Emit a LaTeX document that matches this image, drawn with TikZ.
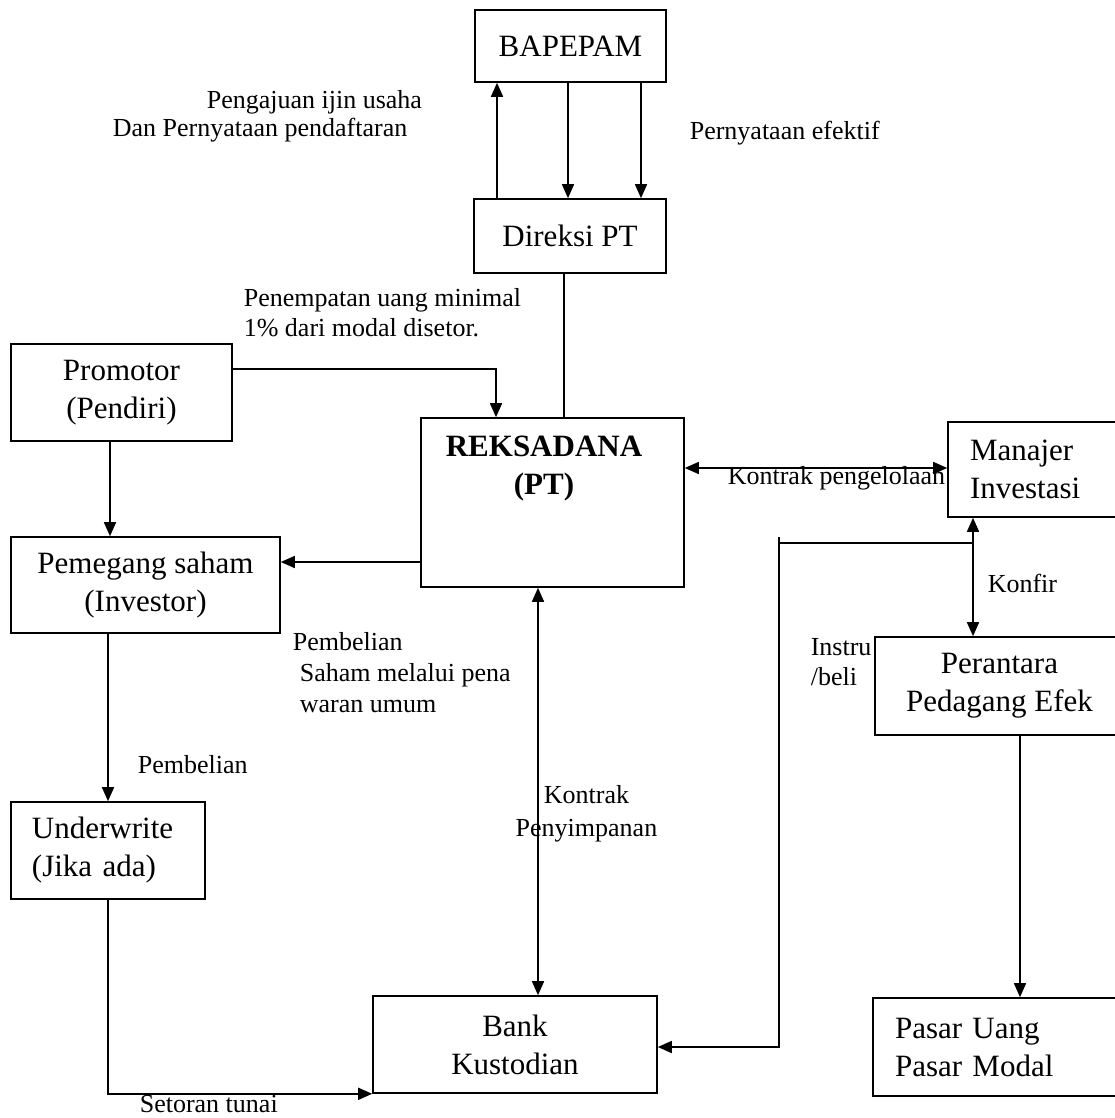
\documentclass[tikz,border=0pt]{standalone}
\usepackage{fontspec}
\setmainfont{Liberation Serif}
\usetikzlibrary{arrows.meta, calc}
\newcommand{\boxfont}{\fontsize{15.5}{19}\selectfont}
\newcommand{\lblfont}{\fontsize{13}{15}\selectfont}
\tikzset{
    block/.style = {draw=black, inner sep=0pt, align=center, font=\boxfont},
    leftblock/.style = {block, align=left, inner xsep=11pt},
    lbl/.style = {inner sep=0pt, anchor=west, align=left, font=\lblfont},
}

\begin{document}
\begin{tikzpicture}[x=0.5pt, y=-0.5pt, line width=0.8pt, >={Triangle[length=7pt,width=6pt]}]
            \useasboundingbox (0,0) rectangle (1114,1118);
            \node (bapepam) [block, minimum width=95.5pt, minimum height=36pt] at (570.5,46) {BAPEPAM};
            \node (direksi) [block, minimum width=96pt, minimum height=37pt] at (570,236) {Direksi PT};
            \node (reksa) [block, minimum width=131.5pt, minimum height=84.5pt] at (552.5,502.5) {};
            \node (reksatxt) [inner sep=0pt, align=center, font=\boxfont\bfseries] at (544,469) {REKSADANA\\(PT)};
            \node (promotor) [block, minimum width=110.5pt, minimum height=48.5pt] at (121.5,392.5) {Promotor\\(Pendiri)};
            \node (pemegang) [block, minimum width=134.5pt, minimum height=48pt] at (145.5,585) {Pemegang saham\\(Investor)};
            \node (underwrite) [leftblock, inner xsep=10.5pt, text width=76pt, minimum height=48.5pt] at (108,850.5) {Underwrite\\(Jika ada)};
            \node (bank) [block, minimum width=142pt, minimum height=48.5pt] at (515,1044.5) {Bank\\Kustodian};
            \node (manajer) [leftblock, text width=66pt, minimum height=47.5pt] at (1036,469.5) {Manajer\\Investasi};
            \node (perantara) [block, minimum width=124.5pt, minimum height=49pt] at (999.5,686) {Perantara\\Pedagang Efek};
            \node (pasar) [leftblock, text width=103.5pt, minimum height=49pt] at (998.5,1047) {Pasar Uang\\Pasar Modal};

            \coordinate (ajuan) at (497,0);
            \coordinate (efektif1) at (568,0);
            \coordinate (efektif2) at (641,0);
            \coordinate (direksiturun) at (564,0);
            \coordinate (setorx) at (496,0);
            \coordinate (setory) at (0,369);
            \coordinate (promturun) at (110,0);
            \coordinate (jualy) at (0,562);
            \coordinate (belix) at (108,0);
            \coordinate (simpanx) at (538,0);
            \coordinate (kelolay) at (0,468);
            \coordinate (konfirx) at (973,0);
            \coordinate (instsudut) at (779,543);
            \coordinate (instatas) at (779,537);
            \coordinate (insty) at (0,1047);
            \coordinate (pasarx) at (1020,0);

            \draw[->] (direksi.north -| ajuan) -- (bapepam.south -| ajuan);
            \draw[->] (bapepam.south -| efektif1) -- (direksi.north -| efektif1);
            \draw[->] (bapepam.south -| efektif2) -- (direksi.north -| efektif2);
            \draw (direksi.south -| direksiturun) -- (reksa.north -| direksiturun);
            \draw[->] (promotor.east |- setory) -| (reksa.north -| setorx);
            \draw[->] (promotor.south -| promturun) -- (pemegang.north -| promturun);
            \draw[->] (reksa.west |- jualy) -- (pemegang.east |- jualy);
            \draw[->] (pemegang.south -| belix) -- (underwrite.north -| belix);
            \draw[->] (underwrite.south) |- (bank.south west);
            \draw[<->] (reksa.south -| simpanx) -- (bank.north -| simpanx);
            \draw[<->] (reksa.east |- kelolay) -- (manajer.west |- kelolay);
            \draw[<->] (manajer.south -| konfirx) -- (perantara.north -| konfirx);
            \draw (instsudut -| konfirx) -- (instsudut);
            \draw[->] (instatas) -- (instatas |- insty) -- (bank.east |- insty);
            \draw[->] (perantara.south -| pasarx) -- (pasar.north -| pasarx);

            \node (lajuan1) [lbl] at (206,102) {Pengajuan ijin usaha};
            \node (lajuan2) [lbl] at (112,130) {Dan Pernyataan pendaftaran};
            \node (lefektif) [lbl] at (689,133) {Pernyataan efektif};
            \node (lsetor) [lbl] at (243,313) {Penempatan uang minimal\\1\% dari modal disetor.};
            \node (lkelola) [lbl] at (727,478) {Kontrak pengelolaan};
            \node (lkonfir) [lbl] at (987,583) {Konfir};
            \node (linstru) [lbl] at (810,662) {Instru\\/beli};
            \node (lsaham) [lbl, font=\fontsize{13}{15.5}\selectfont] at (299,672.5) {\hspace*{-3.5pt}Pembelian\\Saham melalui pena\\waran umum};
            \node (lbeli) [lbl] at (137,765) {Pembelian};
            \node (lsimpan) [lbl, anchor=center, align=center, font=\fontsize{13}{16.5}\selectfont] at (586.5,813.5) {Kontrak\\Penyimpanan};
            \node (ltunai) [lbl] at (139,1104) {Setoran tunai};
\end{tikzpicture}
\end{document}
